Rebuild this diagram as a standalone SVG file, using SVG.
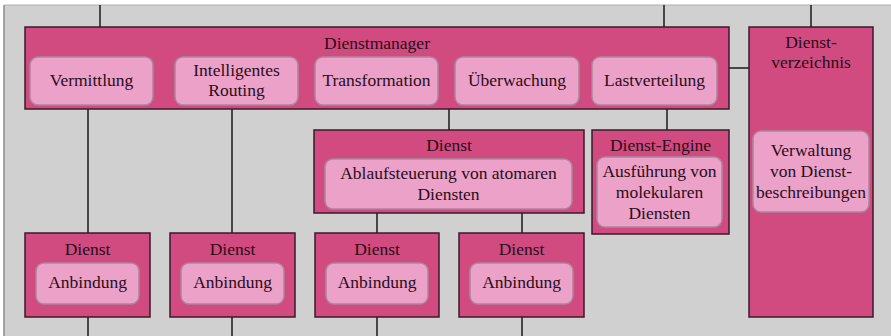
<svg xmlns="http://www.w3.org/2000/svg" width="891" height="336" viewBox="0 0 891 336">
<style>
.o{fill:#d14a80;stroke:#3a1a2a;stroke-width:1.5}
.i{fill:#eca1c8;stroke:#a8889a;stroke-width:1.5}
.t{font-family:"Liberation Serif","Times New Roman",serif;font-size:17.5px;fill:#2a0d1a;text-anchor:middle}
.c line{stroke:#1a1a1a;stroke-width:1.5}
</style>
<rect x="0" y="0" width="891" height="336" fill="#ffffff"/>
<rect x="4" y="5" width="887" height="331" fill="#d0d0d0"/>
<line x1="4" y1="5" x2="4" y2="336" stroke="#8a8a8a" stroke-width="1.5"/>
<line x1="4" y1="5" x2="891" y2="5" stroke="#b0b0b0" stroke-width="1"/>
<g class="c">
<line x1="100" y1="5" x2="100" y2="27"/>
<line x1="664" y1="5" x2="664" y2="27"/>
<line x1="811" y1="5" x2="811" y2="27"/>
<line x1="729" y1="68" x2="749" y2="68"/>
<line x1="88" y1="109" x2="88" y2="233"/>
<line x1="232" y1="109" x2="232" y2="233"/>
<line x1="449" y1="109" x2="449" y2="130"/>
<line x1="667" y1="109" x2="667" y2="130"/>
<line x1="377" y1="213" x2="377" y2="233"/>
<line x1="522" y1="213" x2="522" y2="233"/>
<line x1="88" y1="317" x2="88" y2="336"/>
<line x1="232" y1="317" x2="232" y2="336"/>
<line x1="377" y1="317" x2="377" y2="336"/>
<line x1="522" y1="317" x2="522" y2="336"/>
</g>
<g id="dienstmanager">
<rect class="o" x="25" y="27" width="704" height="82"/>
<text class="t" x="377" y="49">Dienstmanager</text>
</g>
<g id="vermittlung">
<rect class="i" x="30" y="57" width="123" height="48" rx="8"/>
<text class="t" x="91.5" y="86">Vermittlung</text>
</g>
<g id="routing">
<rect class="i" x="175" y="57" width="123" height="48" rx="8"/>
<text class="t" x="236.5" y="76">Intelligentes</text>
<text class="t" x="236.5" y="96">Routing</text>
</g>
<g id="transformation">
<rect class="i" x="315" y="57" width="123" height="48" rx="8"/>
<text class="t" x="376.5" y="86">Transformation</text>
</g>
<g id="ueberwachung">
<rect class="i" x="455" y="57" width="124" height="48" rx="8"/>
<text class="t" x="517" y="86">Überwachung</text>
</g>
<g id="lastverteilung">
<rect class="i" x="592" y="57" width="125" height="48" rx="8"/>
<text class="t" x="654.5" y="86">Lastverteilung</text>
</g>
<g id="dienstverzeichnis">
<rect class="o" x="749" y="27" width="124" height="290"/>
<text class="t" x="811" y="48">Dienst-</text>
<text class="t" x="811" y="68">verzeichnis</text>
<rect class="i" x="753" y="131" width="116" height="81" rx="8"/>
<text class="t" x="811" y="156">Verwaltung</text>
<text class="t" x="811" y="177">von Dienst-</text>
<text class="t" x="811" y="198">beschreibungen</text>
</g>
<g id="dienst-ablauf">
<rect class="o" x="314" y="130" width="270" height="83"/>
<text class="t" x="449" y="151">Dienst</text>
<rect class="i" x="325" y="159" width="247" height="50" rx="8"/>
<text class="t" x="448.5" y="179">Ablaufsteuerung von atomaren</text>
<text class="t" x="448.5" y="200">Diensten</text>
</g>
<g id="dienst-engine">
<rect class="o" x="592" y="130" width="137" height="104"/>
<text class="t" x="660.5" y="151">Dienst-Engine</text>
<rect class="i" x="597" y="157" width="125" height="70" rx="8"/>
<text class="t" x="659.5" y="177">Ausführung von</text>
<text class="t" x="659.5" y="198">molekularen</text>
<text class="t" x="659.5" y="219">Diensten</text>
</g>
<g id="dienst1">
<rect class="o" x="25" y="233" width="125" height="84"/>
<text class="t" x="87.5" y="255">Dienst</text>
<rect class="i" x="36" y="263" width="103" height="41" rx="8"/>
<text class="t" x="87.5" y="288">Anbindung</text>
</g>
<g id="dienst2">
<rect class="o" x="170" y="233" width="125" height="84"/>
<text class="t" x="232.5" y="255">Dienst</text>
<rect class="i" x="181" y="263" width="103" height="41" rx="8"/>
<text class="t" x="232.5" y="288">Anbindung</text>
</g>
<g id="dienst3">
<rect class="o" x="315" y="233" width="124" height="84"/>
<text class="t" x="377" y="255">Dienst</text>
<rect class="i" x="326" y="263" width="102" height="41" rx="8"/>
<text class="t" x="377" y="288">Anbindung</text>
</g>
<g id="dienst4">
<rect class="o" x="459" y="233" width="125" height="84"/>
<text class="t" x="521.5" y="255">Dienst</text>
<rect class="i" x="470" y="263" width="103" height="41" rx="8"/>
<text class="t" x="521.5" y="288">Anbindung</text>
</g>
</svg>
